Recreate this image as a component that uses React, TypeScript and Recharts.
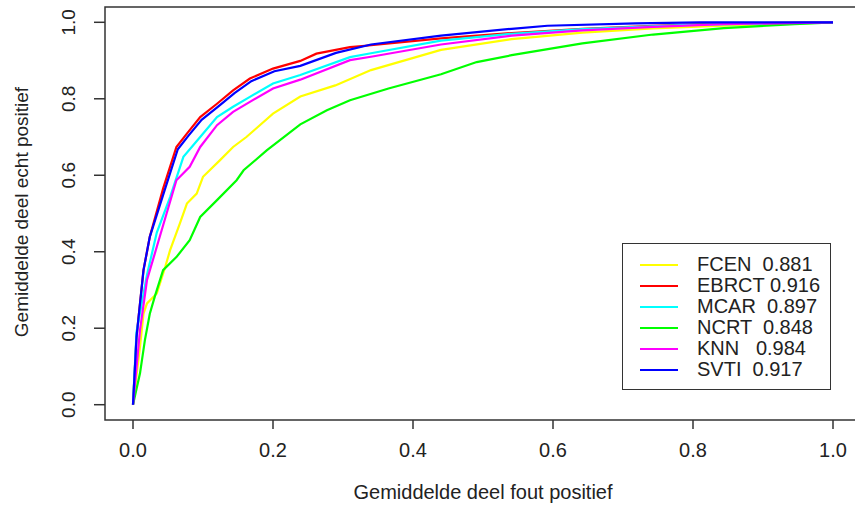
import React from 'react'
import { LineChart, Line, XAxis, YAxis, ReferenceArea } from 'recharts'

const FONT = '"Liberation Sans", Arial, sans-serif'
const INK = '#222'

// false positive rate (x) / true positive rate (y)
const fcenX = [0, 0.01, 0.015, 0.02, 0.034, 0.046, 0.053, 0.067, 0.077, 0.091, 0.1, 0.124, 0.143, 0.162, 0.2, 0.239, 0.289, 0.34, 0.44, 0.541, 0.642, 0.743, 0.844, 0.92, 1]
const fcenY = [0, 0.151, 0.238, 0.265, 0.291, 0.36, 0.404, 0.474, 0.526, 0.552, 0.596, 0.639, 0.674, 0.7, 0.761, 0.806, 0.835, 0.875, 0.928, 0.956, 0.973, 0.984, 0.991, 0.996, 1]

const ebrctX = [0, 0.005, 0.015, 0.024, 0.043, 0.062, 0.077, 0.096, 0.12, 0.143, 0.167, 0.2, 0.239, 0.262, 0.31, 0.34, 0.44, 0.541, 0.642, 0.743, 0.844, 1]
const ebrctY = [0, 0.177, 0.352, 0.439, 0.565, 0.674, 0.709, 0.752, 0.787, 0.822, 0.853, 0.879, 0.899, 0.918, 0.935, 0.94, 0.958, 0.972, 0.983, 0.991, 0.997, 1]

const mcarX = [0, 0.005, 0.02, 0.034, 0.053, 0.072, 0.096, 0.12, 0.143, 0.167, 0.2, 0.239, 0.31, 0.34, 0.44, 0.541, 0.642, 0.794, 1]
const mcarY = [0, 0.19, 0.34, 0.45, 0.543, 0.648, 0.7, 0.752, 0.779, 0.805, 0.84, 0.862, 0.909, 0.919, 0.952, 0.97, 0.982, 0.993, 1]

const ncrtX = [0, 0.01, 0.017, 0.024, 0.031, 0.043, 0.062, 0.081, 0.096, 0.12, 0.148, 0.158, 0.191, 0.239, 0.277, 0.31, 0.365, 0.44, 0.491, 0.541, 0.642, 0.743, 0.844, 0.945, 1]
const ncrtY = [0, 0.082, 0.169, 0.238, 0.282, 0.352, 0.386, 0.43, 0.491, 0.535, 0.587, 0.613, 0.665, 0.733, 0.77, 0.796, 0.827, 0.864, 0.896, 0.914, 0.945, 0.968, 0.985, 0.995, 1]

const knnX = [0, 0.01, 0.02, 0.034, 0.048, 0.062, 0.081, 0.096, 0.12, 0.143, 0.167, 0.2, 0.239, 0.31, 0.34, 0.44, 0.541, 0.642, 0.743, 0.844, 1]
const knnY = [0, 0.195, 0.326, 0.413, 0.5, 0.587, 0.622, 0.674, 0.731, 0.766, 0.792, 0.827, 0.85, 0.901, 0.91, 0.942, 0.965, 0.979, 0.988, 0.995, 1]

const svtiX = [0, 0.005, 0.015, 0.024, 0.045, 0.064, 0.079, 0.098, 0.122, 0.145, 0.169, 0.202, 0.239, 0.29, 0.34, 0.44, 0.541, 0.592, 0.718, 0.81, 1]
const svtiY = [0, 0.177, 0.352, 0.439, 0.56, 0.668, 0.703, 0.745, 0.78, 0.815, 0.846, 0.872, 0.886, 0.92, 0.942, 0.965, 0.983, 0.991, 0.997, 1, 1]

const names = ['FCEN', 'EBRCT', 'MCAR', 'NCRT', 'KNN', 'SVTI']
const aucs = ['0.881', '0.916', '0.897', '0.848', '0.984', '0.917']
const gaps = ['  ', ' ', '  ', '  ', '   ', '  ']
const colors = ['#FFFF00', '#FF0000', '#00FFFF', '#00FF00', '#FF00FF', '#0000FF']
const xs = [fcenX, ebrctX, mcarX, ncrtX, knnX, svtiX]
const ys = [fcenY, ebrctY, mcarY, ncrtY, knnY, svtiY]

const ticks = [0, 0.2, 0.4, 0.6, 0.8, 1]

const series = names.map((n, i) => ({
  name: n,
  color: colors[i],
  data: xs[i].map((x, j) => ({ x, y: ys[i][j] })),
}))

const XTick = ({ x, payload }: any) => (
  <text x={x} y={457} textAnchor="middle" fill={INK} style={{ fontFamily: FONT, fontSize: 20 }}>
    {payload.value.toFixed(1)}
  </text>
)

const YTick = ({ y, payload }: any) => (
  <text x={0} y={0} transform={`translate(75,${y}) rotate(-90)`} textAnchor="middle" fill={INK} style={{ fontFamily: FONT, fontSize: 19 }}>
    {payload.value.toFixed(1)}
  </text>
)

export default function App() {
  return (
    <div style={{ position: 'absolute', left: 0, top: 0, width: 855, height: 508, overflow: 'hidden', background: '#fff' }}>
      <LineChart width={870} height={508} margin={{ top: 7, right: 9, left: 0, bottom: 0 }}>
        <XAxis type="number" dataKey="x" domain={[-0.04, 1.04]} ticks={ticks} axisLine={false}
          tickSize={9} tickLine={{ stroke: '#333', strokeWidth: 1.5 }} tick={<XTick />} height={88} allowDataOverflow />
        <YAxis type="number" dataKey="y" domain={[-0.04, 1.04]} ticks={ticks} axisLine={false}
          tickSize={11} tickLine={{ stroke: '#333', strokeWidth: 1.5 }} tick={<YTick />} width={105} allowDataOverflow />
        <ReferenceArea x1={-0.04} x2={1.04} y1={-0.04} y2={1.04} fill="none" fillOpacity={0} stroke="#333" strokeWidth={1.5} strokeOpacity={1} />
        {series.map(s => (
          <Line key={s.name} data={s.data} dataKey="y" type="linear" stroke={s.color} strokeWidth={2.2}
            dot={false} activeDot={false} isAnimationActive={false} />
        ))}
      </LineChart>

      <div style={{ position: 'absolute', left: 105, width: 756, top: 481, textAlign: 'center', fontFamily: FONT, fontSize: 20, color: INK }}>
        Gemiddelde deel fout positief
      </div>
      <div style={{ position: 'absolute', left: 22, top: 213, width: 0, height: 0 }}>
        <div style={{ position: 'absolute', left: -200, top: -12, width: 400, textAlign: 'center', transform: 'rotate(-90deg)', fontFamily: FONT, fontSize: 19, color: INK, whiteSpace: 'nowrap' }}>
          Gemiddelde deel echt positief
        </div>
      </div>

      <div style={{ position: 'absolute', left: 622, top: 243, width: 209, height: 147, border: '1.5px solid #333', background: '#fff', boxSizing: 'border-box' }}>
        {series.map((s, i) => (
          <div key={s.name} style={{ position: 'absolute', left: 0, top: 10 + i * 21, height: 21, width: 209 }}>
            <div style={{ position: 'absolute', left: 17, top: 10, width: 38, height: 2, background: s.color }} />
            <div style={{ position: 'absolute', left: 74, top: -1, fontFamily: FONT, fontSize: 20, lineHeight: '22px', color: INK, whiteSpace: 'pre' }}>
              {s.name + gaps[i] + aucs[i]}
            </div>
          </div>
        ))}
      </div>
    </div>
  )
}
